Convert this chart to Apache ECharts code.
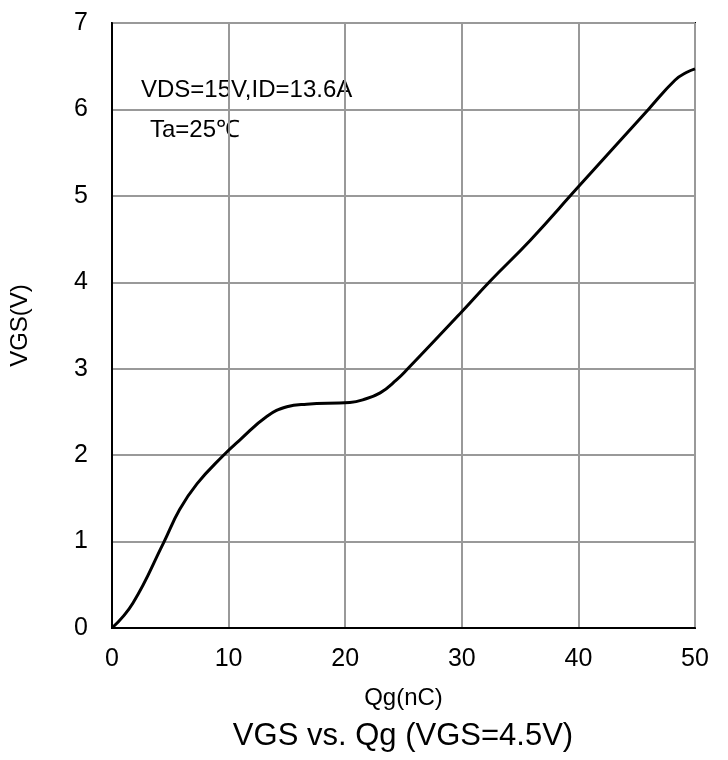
<!DOCTYPE html>
<html>
<head>
<meta charset="utf-8">
<script src="https://cdn.jsdelivr.net/npm/echarts@6/dist/echarts.min.js"></script>
<style>
  html, body { margin: 0; padding: 0; background: #fff; }
  #chart { width: 728px; height: 760px; }
</style>
</head>
<body>
<div id="chart"></div>
<script>
// ── gate charge curve ──
const qg  = [0, 1.8, 4.4, 5.8, 7.3, 9.5, 11.0, 13.3, 15.0, 16.7, 20.4, 21.5, 23.0, 24.4, 25.3, 30.0, 32.4, 35.9, 39.9, 46.0, 48.3, 49.3, 50.0];
const vgs = [0, 0.29, 0.98, 1.37, 1.67, 1.99, 2.18, 2.45, 2.56, 2.59, 2.61, 2.64, 2.72, 2.87, 2.99, 3.66, 4.01, 4.49, 5.09, 6.00, 6.34, 6.43, 6.47];
const xTicks = [0, 10, 20, 30, 40, 50];
const yTicks = [0, 1, 2, 3, 4, 5, 6, 7];

const FONT = "'Liberation Sans', Arial, sans-serif";
const chart = echarts.init(document.getElementById("chart"), null, { renderer: "canvas" });

chart.setOption({
  animation: false,
  backgroundColor: "#fff",
  title: {
    text: "VGS vs. Qg (VGS=4.5V)",
    left: 403, top: 721, textAlign: "center", padding: 0,
    textStyle: { fontFamily: FONT, fontSize: 31, fontWeight: "normal", color: "#000" },
  },
  grid: { left: 112, right: 33, top: 23, bottom: 132, containLabel: false,
    show: true, borderColor: "#000", borderWidth: 2 },
  xAxis: {
    type: "value", min: xTicks[0], max: xTicks[xTicks.length - 1], interval: 10,
    name: "Qg(nC)", nameLocation: "middle", nameGap: 58,
    nameTextStyle: { fontFamily: FONT, fontSize: 24, color: "#000" },
    axisLine: { show: true, lineStyle: { color: "#000", width: 2 } },
    axisTick: { show: false },
    axisLabel: { fontFamily: FONT, fontSize: 25, color: "#000", margin: 19 },
    splitLine: { show: true, lineStyle: { color: "#999", width: 2 } },
  },
  yAxis: {
    type: "value", min: yTicks[0], max: yTicks[yTicks.length - 1], interval: 1,
    name: "VGS(V)", nameLocation: "middle", nameGap: 80, nameRotate: 90,
    nameTextStyle: { fontFamily: FONT, fontSize: 24, color: "#000" },
    axisLine: { show: true, lineStyle: { color: "#000", width: 2 } },
    axisTick: { show: false },
    axisLabel: { fontFamily: FONT, fontSize: 25, color: "#000", margin: 24 },
    splitLine: { show: true, lineStyle: { color: "#999", width: 2 } },
  },
  series: [{
    type: "line", smooth: 0.45, symbol: "none",
    data: qg.map((q, i) => [q, vgs[i]]),
    lineStyle: { color: "#000", width: 3 },
  }],
  graphic: [
    { type: "text", left: 141, top: 78,
      style: { text: "VDS=15V,ID=13.6A", fontFamily: FONT, fontSize: 24, fill: "#000" } },
    { type: "text", left: 150, top: 118,
      style: { text: "Ta=25℃", fontFamily: FONT, fontSize: 24, fill: "#000" } },
  ],
});
</script>
</body>
</html>
